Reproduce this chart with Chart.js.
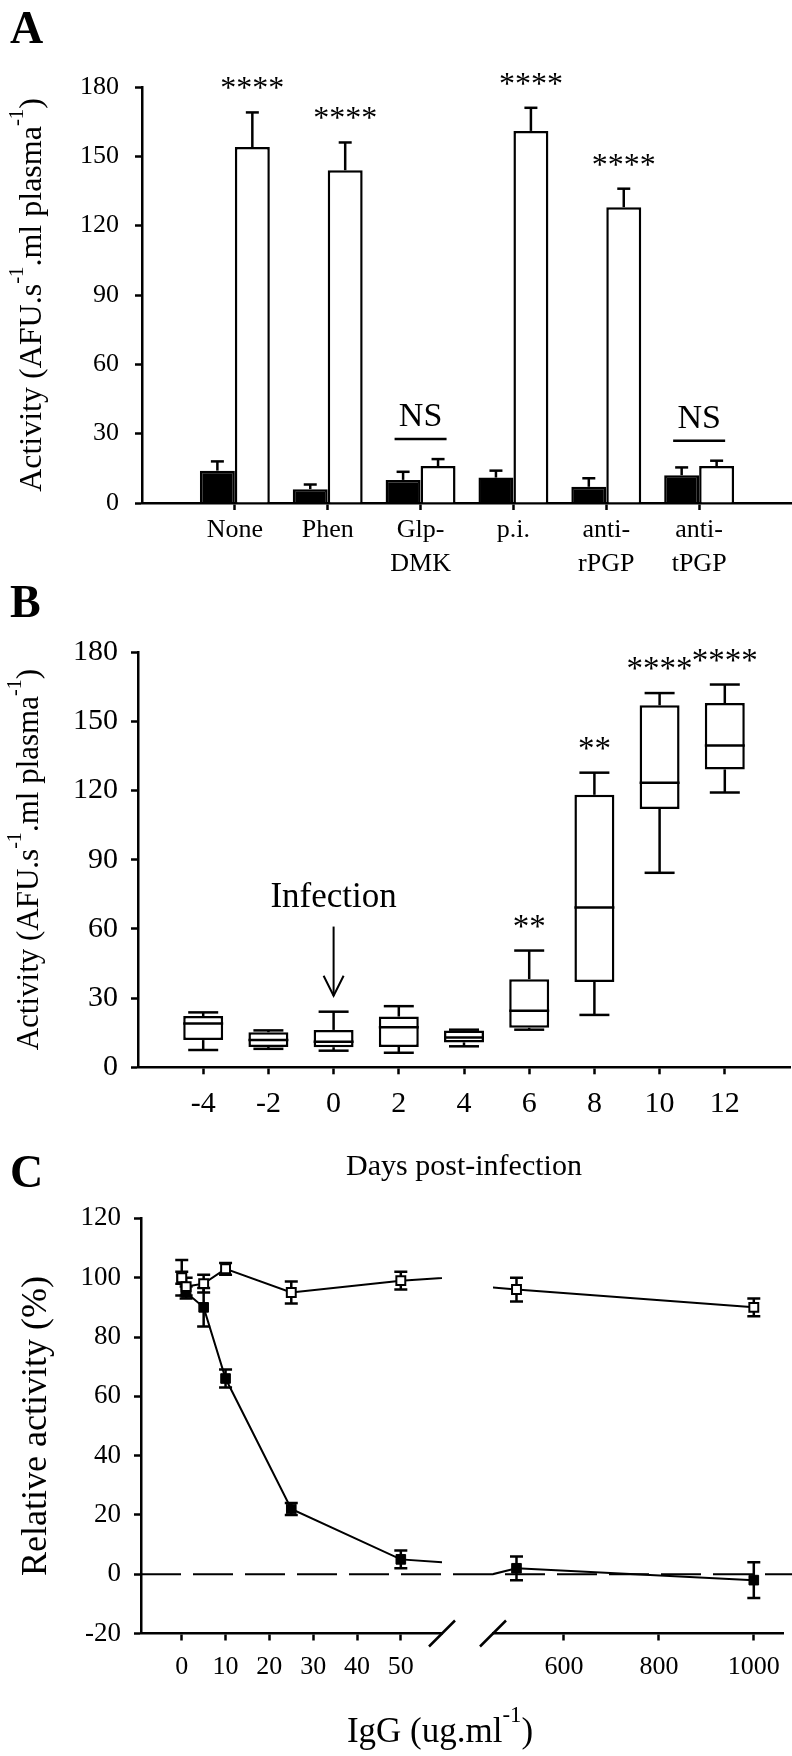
<!DOCTYPE html>
<html>
<head>
<meta charset="utf-8">
<title>Plasma activity</title>
<script src="https://cdn.jsdelivr.net/npm/chart.js@4.4.1/dist/chart.umd.min.js"></script>
<style>
  html, body { margin: 0; padding: 0; background: #fff; }
  #page { position: relative; width: 792px; height: 1756px; overflow: hidden; background: #fff; }
  #page canvas { position: absolute; display: block; }
</style>
</head>
<body>
<div id="page">
  <canvas id="chartA" width="792" height="580" style="left:0;top:0"></canvas>
  <canvas id="chartB" width="792" height="620" style="left:0;top:570px"></canvas>
  <canvas id="chartCLeft" width="792" height="616" style="left:0;top:1140px"></canvas>
  <canvas id="chartCRight" width="322" height="616" style="left:470px;top:1140px"></canvas>
</div>
<script>
// ---- Panel A : activity per treatment (mean + error) ----
const categories = [['None'], ['Phen'], ['Glp-', 'DMK'], ['p.i.'], ['anti-', 'rPGP'], ['anti-', 'tPGP']];
const filledBars = [14, 6, 10, 11, 7, 12];
const filledBarsErr = [4, 2, 3.5, 3, 3.7, 3.4];
const openBars = [154, 144, 16, 161, 128, 16];
const openBarsErr = [15, 12, 3, 10, 8, 2.3];
const barsSig = ['****', '****', 'NS', '****', '****', 'NS'];
const activityTicks = [0, 30, 60, 90, 120, 150, 180];

// ---- Panel B : activity vs days post-infection (box plots) ----
const days = [-4, -2, 0, 2, 4, 6, 8, 10, 12];
const boxLow = [7.5, 8.0, 7.2, 6.3, 9.1, 16.3, 22.7, 84.3, 119.1];
const boxQ1 = [11.8, 8.8, 8.7, 8.8, 10.8, 17.1, 37.0, 112.0, 129.1];
const boxMedian = [19.0, 11.8, 11.1, 17.4, 12.9, 24.5, 69.3, 123.3, 139.5];
const boxQ3 = [22.2, 15.2, 16.2, 22.0, 16.0, 38.2, 118.1, 156.9, 157.9];
const boxHigh = [23.8, 16.0, 24.1, 26.5, 16.3, 50.6, 127.7, 162.2, 165.9];
const boxSig = ['', '', '', '', '', '**', '**', '****', '****'];
const dayTicks = [-4, -2, 0, 2, 4, 6, 8, 10, 12];
const infection = { day: 0, text: 'Infection', textAt: 69.5, arrowFrom: 61, arrowTo: 31 };

// ---- Panel C : relative activity vs IgG (broken x axis) ----
const igg = [0, 1, 5, 10, 25, 50, 100, 250, 500, 1000];
const controlIgG = [100, 97, 98, 103, 95, 99, 104, 99.6, 96, 90];
const controlIgGErr = [6, 3, 3, 2, 3.7, 3, null, null, 4, 3];
const antiIgG = [100, 95, 90, 66, 22, 5, 0, -8, 2, -2];
const antiIgGErr = [2, 2, 6.5, 3, 2, 3, null, null, 4, 6];
const iggTicksLow = [0, 10, 20, 30, 40, 50];
const iggTicksHigh = [600, 800, 1000];
const relativeTicks = [-20, 0, 20, 40, 60, 80, 100, 120];

const SERIF = '"Liberation Serif", "Times New Roman", serif';
const LW = 2.5;
Chart.defaults.font.family = SERIF;
Chart.defaults.color = '#000';
Chart.defaults.animation = false;
Chart.defaults.plugins.legend.display = false;
Chart.defaults.plugins.tooltip.enabled = false;

function axis(opts) {
  return Object.assign({
    border: { display: true, color: '#000', width: LW },
    grid: { drawOnChartArea: false, drawTicks: true, tickLength: 7, tickWidth: LW, tickColor: '#000', offset: false }
  }, opts);
}
function setTicks(values) {
  return scale => { scale.ticks = values.map(v => ({ value: v })); };
}
const plain = v => String(v);
function line(ctx, x1, y1, x2, y2) {
  ctx.beginPath(); ctx.moveTo(x1, y1); ctx.lineTo(x2, y2); ctx.stroke();
}
function label(ctx, str, x, y, size, bold, align) {
  ctx.font = (bold ? 'bold ' : '') + size + 'px ' + SERIF;
  ctx.textAlign = align || 'center';
  ctx.textBaseline = 'alphabetic';
  ctx.fillText(str, x, y);
}
// parts: [text, isSuperscript]; x,y = centre of the baseline
function richLabel(ctx, parts, x, y, size, vertical) {
  const fontFor = sup => (sup ? size * 0.65 : size) + 'px ' + SERIF;
  let total = 0;
  parts.forEach(([t, sup]) => { ctx.font = fontFor(sup); total += ctx.measureText(t).width; });
  ctx.save();
  ctx.translate(x, y);
  if (vertical) ctx.rotate(-Math.PI / 2);
  ctx.textAlign = 'left';
  ctx.textBaseline = 'alphabetic';
  let cx = -total / 2;
  parts.forEach(([t, sup]) => {
    ctx.font = fontFor(sup);
    ctx.fillText(t, cx, sup ? -size * 0.55 : 0);
    cx += ctx.measureText(t).width;
  });
  ctx.restore();
}
const activityTitle = [['Activity (AFU.s', false], ['-1', true], ['.ml plasma', false], ['-1', true], [')', false]];

// ---------- Panel A ----------
new Chart(document.getElementById('chartA'), {
  type: 'bar',
  data: {
    datasets: [
      { data: filledBars.map((v, i) => ({ x: i + 1, y: v })), backgroundColor: '#000', borderColor: '#000', borderWidth: LW, categoryPercentage: 0.753, barPercentage: 1 },
      { data: openBars.map((v, i) => ({ x: i + 1, y: v })), backgroundColor: '#fff', borderColor: '#000', borderWidth: LW, categoryPercentage: 0.753, barPercentage: 1 }
    ]
  },
  options: {
    responsive: false,
    devicePixelRatio: 1,
    layout: { padding: { top: 87, left: 0, right: 0, bottom: 0 } },
    scales: {
      x: axis({
        type: 'linear', min: 0, max: 7, offset: false,
        afterBuildTicks: setTicks(categories.map((c, i) => i + 1)),
        afterFit: s => { s.height = 77; },
        ticks: { callback: v => categories[v - 1], font: { size: 26, lineHeight: 1.3 }, padding: 3, maxRotation: 0, autoSkip: false }
      }),
      y: axis({
        min: 0, max: 180,
        afterBuildTicks: setTicks(activityTicks),
        afterFit: s => { s.width = 142; },
        ticks: { callback: plain, font: { size: 26 }, padding: 16 }
      })
    }
  },
  plugins: [{
    id: 'panelA',
    afterDatasetsDraw(chart) {
      const { ctx, scales: { y } } = chart;
      const filledEls = chart.getDatasetMeta(0).data;
      const openEls = chart.getDatasetMeta(1).data;
      ctx.save();
      ctx.strokeStyle = '#000';
      ctx.fillStyle = '#000';
      categories.forEach((c, i) => {
        ctx.lineWidth = LW;
        [[filledEls[i], filledBars[i], filledBarsErr[i]], [openEls[i], openBars[i], openBarsErr[i]]].forEach(([bar, v, e]) => {
          const top = y.getPixelForValue(v + e);
          line(ctx, bar.x, bar.y, bar.x, top);
          line(ctx, bar.x - 6.5, top, bar.x + 6.5, top);
        });
        if (barsSig[i] === 'NS') {
          const highest = y.getPixelForValue(Math.max(filledBars[i] + filledBarsErr[i], openBars[i] + openBarsErr[i]));
          const cx = (filledEls[i].x + openEls[i].x) / 2;
          ctx.lineWidth = 2.5;
          line(ctx, cx - 26, highest - 20, cx + 26, highest - 20);
          label(ctx, 'NS', cx, highest - 33, 34);
        } else {
          label(ctx, barsSig[i], openEls[i].x, y.getPixelForValue(openBars[i] + openBarsErr[i]) - 14, 32);
        }
      });
      ctx.restore();
    },
    afterDraw(chart) {
      const { ctx, chartArea } = chart;
      ctx.save();
      ctx.fillStyle = '#000';
      label(ctx, 'A', 10, 43, 46, true, 'left');
      richLabel(ctx, activityTitle, 41, (chartArea.top + chartArea.bottom) / 2, 32, true);
      ctx.restore();
    }
  }]
});

// ---------- Panel B ----------
new Chart(document.getElementById('chartB'), {
  type: 'bar',
  data: {
    datasets: [{
      data: days.map((d, i) => ({ x: d, y: [boxQ1[i], boxQ3[i]] })),
      backgroundColor: '#fff', borderColor: '#000', borderWidth: LW, borderSkipped: false,
      categoryPercentage: 0.613, barPercentage: 1
    }]
  },
  options: {
    responsive: false,
    devicePixelRatio: 1,
    layout: { padding: { top: 82, left: 0, right: 2, bottom: 0 } },
    scales: {
      x: axis({
        type: 'linear', min: -6, max: 14, offset: false,
        afterBuildTicks: setTicks(dayTicks),
        afterFit: s => { s.height = 122.7; },
        ticks: { callback: plain, font: { size: 30 }, padding: 12, maxRotation: 0, autoSkip: false }
      }),
      y: axis({
        min: 0, max: 180,
        afterBuildTicks: setTicks(activityTicks),
        afterFit: s => { s.width = 138; },
        ticks: { callback: plain, font: { size: 30 }, padding: 13 }
      })
    }
  },
  plugins: [{
    id: 'panelB',
    afterDatasetsDraw(chart) {
      const { ctx, scales: { x, y } } = chart;
      const boxes = chart.getDatasetMeta(0).data;
      ctx.save();
      ctx.strokeStyle = '#000';
      ctx.fillStyle = '#000';
      ctx.lineWidth = LW;
      days.forEach((d, i) => {
        const b = boxes[i];
        const half = b.width / 2;
        const pm = y.getPixelForValue(boxMedian[i]);
        line(ctx, b.x - half, pm, b.x + half, pm);
        const ph = y.getPixelForValue(boxHigh[i]);
        const pl = y.getPixelForValue(boxLow[i]);
        line(ctx, b.x, y.getPixelForValue(boxQ3[i]), b.x, ph);
        line(ctx, b.x - 15, ph, b.x + 15, ph);
        line(ctx, b.x, y.getPixelForValue(boxQ1[i]), b.x, pl);
        line(ctx, b.x - 15, pl, b.x + 15, pl);
        if (boxSig[i]) label(ctx, boxSig[i], b.x, ph - 14, 33);
      });
      // infection marker
      const ix = x.getPixelForValue(infection.day);
      label(ctx, infection.text, ix, y.getPixelForValue(infection.textAt), 35);
      const a1 = y.getPixelForValue(infection.arrowFrom);
      const a2 = y.getPixelForValue(infection.arrowTo);
      ctx.lineWidth = 2;
      line(ctx, ix, a1, ix, a2);
      ctx.beginPath();
      ctx.moveTo(ix - 10, a2 - 20); ctx.lineTo(ix, a2); ctx.lineTo(ix + 10, a2 - 20);
      ctx.stroke();
      ctx.restore();
    },
    afterDraw(chart) {
      const { ctx, chartArea } = chart;
      ctx.save();
      ctx.fillStyle = '#000';
      label(ctx, 'B', 10, 47, 46, true, 'left');
      richLabel(ctx, activityTitle, 38, (chartArea.top + chartArea.bottom) / 2, 31, true);
      label(ctx, 'Days post-infection', (chartArea.left + chartArea.right) / 2, 605, 30);
      ctx.restore();
    }
  }]
});

// ---------- Panel C (two halves of a broken x axis) ----------
const iggDatasets = () => [
  { data: igg.map((v, i) => ({ x: v, y: controlIgG[i] })), borderColor: '#000', borderWidth: 2,
    pointStyle: 'rect', pointRadius: 6.3, pointBackgroundColor: '#fff', pointBorderColor: '#000', pointBorderWidth: 2, clip: 0 },
  { data: igg.map((v, i) => ({ x: v, y: antiIgG[i] })), borderColor: '#000', borderWidth: 2,
    pointStyle: 'rect', pointRadius: 6.8, pointBackgroundColor: '#000', pointBorderColor: '#000', pointBorderWidth: 1, clip: 0 }
];
const iggErrors = [[controlIgG, controlIgGErr], [antiIgG, antiIgGErr]];

function brokenAxisDecor(side) {
  return {
    id: 'decor' + side,
    beforeDatasetsDraw(chart) {
      const { ctx, chartArea: a, scales: { y } } = chart;
      ctx.save();
      ctx.strokeStyle = '#000';
      ctx.lineWidth = 2;
      if (side === 'left') {
        // dashed zero line, continues across the break
        ctx.setLineDash([40, 12]);
        const y0 = y.getPixelForValue(0);
        line(ctx, a.left, y0, chart.width, y0);
        ctx.setLineDash([]);
      }
      ctx.beginPath();
      ctx.rect(a.left, a.top, a.right - a.left, a.bottom - a.top);
      ctx.clip();
      ctx.lineWidth = LW;
      iggErrors.forEach(([vals, errs], di) => {
        const pts = chart.getDatasetMeta(di).data;
        vals.forEach((v, i) => {
          if (errs[i] == null || !pts[i] || !isFinite(pts[i].x)) return;
          const px = pts[i].x;
          const lo = y.getPixelForValue(v - errs[i]);
          const hi = y.getPixelForValue(v + errs[i]);
          line(ctx, px, lo, px, hi);
          line(ctx, px - 6.5, lo, px + 6.5, lo);
          line(ctx, px - 6.5, hi, px + 6.5, hi);
        });
      });
      ctx.restore();
    },
    afterDraw(chart) {
      const { ctx, chartArea: a } = chart;
      ctx.save();
      ctx.strokeStyle = '#000';
      ctx.fillStyle = '#000';
      ctx.lineWidth = LW;
      const bx = side === 'left' ? a.right : a.left;
      line(ctx, bx - 13, a.bottom + 13, bx + 13, a.bottom - 13);
      if (side === 'left') {
        label(ctx, 'C', 10, 47, 46, true, 'left');
        richLabel(ctx, [['Relative activity (%)', false]], 46, (a.top + a.bottom) / 2, 36, true);
        richLabel(ctx, [['IgG (ug.ml', false], ['-1', true], [')', false]], 440, 601.7, 35, false);
      }
      ctx.restore();
    }
  };
}

new Chart(document.getElementById('chartCLeft'), {
  type: 'line',
  data: { datasets: iggDatasets() },
  options: {
    responsive: false,
    devicePixelRatio: 1,
    layout: { padding: { top: 78.4, left: 0, right: 350, bottom: 0 } },
    scales: {
      x: axis({
        type: 'linear', min: -9.3, max: 59.4,
        afterBuildTicks: setTicks(iggTicksLow),
        afterFit: s => { s.height = 122.5; },
        ticks: { callback: plain, font: { size: 26 }, padding: 11, maxRotation: 0, autoSkip: false }
      }),
      y: axis({
        min: -20, max: 120,
        afterBuildTicks: setTicks(relativeTicks),
        afterFit: s => { s.width = 141; },
        ticks: { callback: plain, font: { size: 27 }, padding: 13 }
      })
    }
  },
  plugins: [brokenAxisDecor('left')]
});

new Chart(document.getElementById('chartCRight'), {
  type: 'line',
  data: { datasets: iggDatasets() },
  options: {
    responsive: false,
    devicePixelRatio: 1,
    layout: { padding: { top: 78.4, left: 23, right: 0, bottom: 0 } },
    scales: {
      x: axis({
        type: 'linear', min: 450.5, max: 1063,
        afterBuildTicks: setTicks(iggTicksHigh),
        afterFit: s => { s.height = 122.5; },
        ticks: { callback: plain, font: { size: 26 }, padding: 11, maxRotation: 0, autoSkip: false }
      }),
      y: { display: false, min: -20, max: 120 }
    }
  },
  plugins: [brokenAxisDecor('right')]
});
</script>
</body>
</html>
